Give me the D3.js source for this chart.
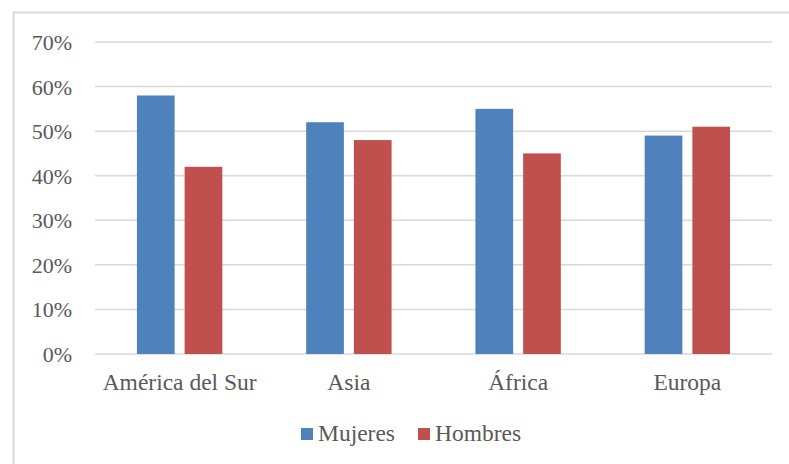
<!DOCTYPE html>
<html>
<head>
<meta charset="utf-8">
<script src="https://cdn.jsdelivr.net/npm/d3@7"></script>
<style>
  html, body { margin: 0; padding: 0; background: #fff; }
  svg { display: block; }
</style>
</head>
<body>
<svg id="chart" width="789" height="464"></svg>
<script>
// Regions and share of each gender
const categories = ["América del Sur", "Asia", "África", "Europa"];
const seriesNames = ["Mujeres", "Hombres"];
const mujeres = [58, 52, 55, 49];
const hombres = [42, 48, 45, 51];
const yTicks = [0, 10, 20, 30, 40, 50, 60, 70];
const colors = ["#4F81BD", "#C0504D"];

// Pick the first serif face that is actually installed
function pickFont(cands) {
  const ctx = document.createElement("canvas").getContext("2d");
  const sample = "América del Sur 70% Hombres";
  ctx.font = "40px monospace";
  const base = ctx.measureText(sample).width;
  for (const f of cands) {
    ctx.font = `40px "${f}", monospace`;
    if (Math.abs(ctx.measureText(sample).width - base) > 0.5) return `"${f}", serif`;
  }
  return "serif";
}
const FONT = pickFont(["Liberation Serif", "Times New Roman", "Tinos", "Nimbus Roman", "Noto Serif", "DejaVu Serif"]);
const TEXT = "#595959";

const svg = d3.select("#chart");
const W = 789, H = 464;
const plot = { left: 95, right: 772, top: 42, bottom: 354 };

// Outer chart frame (runs past the right and bottom edges)
svg.append("rect")
  .attr("x", 13.5).attr("y", 12.5)
  .attr("width", W + 10).attr("height", H + 10)
  .attr("fill", "none").attr("stroke", "#D9D9D9").attr("stroke-width", 2);

const x0 = d3.scaleBand().domain(categories).range([plot.left, plot.right]);
const x1 = d3.scaleBand().domain(seriesNames).range([0, 85.4]).paddingInner(0.21);
const y = d3.scaleLinear().domain([0, 70]).range([plot.bottom, plot.top]);

// Gridlines
svg.append("g").selectAll("line").data(yTicks).join("line")
  .attr("x1", plot.left).attr("x2", plot.right)
  .attr("y1", d => y(d)).attr("y2", d => y(d))
  .attr("stroke", "#D9D9D9").attr("stroke-width", 1.5);

// Y axis labels
const yAxis = d3.axisLeft(y).tickValues(yTicks).tickFormat(d => d + "%").tickSize(0).tickPadding(0);
const gy = svg.append("g").attr("transform", "translate(72,0)").call(yAxis)
  .attr("font-family", FONT).attr("font-size", 22);
gy.select(".domain").remove();
gy.selectAll("text").attr("fill", TEXT).attr("dy", "0.34em");

// Bars
const rows = categories.map((c, i) => ({ cat: c, vals: [mujeres[i], hombres[i]] }));
const groups = svg.append("g").selectAll("g").data(rows).join("g")
  .attr("transform", d => `translate(${x0(d.cat) + x0.bandwidth() / 2 - 42.7},0)`);
groups.selectAll("rect").data(d => d.vals.map((v, j) => ({ s: seriesNames[j], v, j })))
  .join("rect")
  .attr("x", d => x1(d.s))
  .attr("width", x1.bandwidth())
  .attr("y", d => y(d.v))
  .attr("height", d => y(0) - y(d.v))
  .attr("fill", d => colors[d.j]);

// Category labels
const xAxis = d3.axisBottom(x0).tickSize(0).tickPadding(0);
const gx = svg.append("g").attr("transform", `translate(0,${plot.bottom})`).call(xAxis)
  .attr("font-family", FONT).attr("font-size", 23.5);
gx.select(".domain").remove();
gx.selectAll("text").attr("fill", TEXT).attr("dy", null).attr("y", 36);

// Legend
const legendItems = [{ name: "Mujeres", x: 301 }, { name: "Hombres", x: 418 }];
const lg = svg.append("g").selectAll("g").data(legendItems).join("g")
  .attr("transform", d => `translate(${d.x},0)`);
lg.append("rect").attr("x", 0).attr("y", 428).attr("width", 12).attr("height", 12)
  .attr("fill", (d, i) => colors[i]);
lg.append("text").attr("x", 17).attr("y", 441)
  .attr("font-family", FONT).attr("font-size", 23.5).attr("fill", TEXT)
  .text(d => d.name);
</script>
</body>
</html>
